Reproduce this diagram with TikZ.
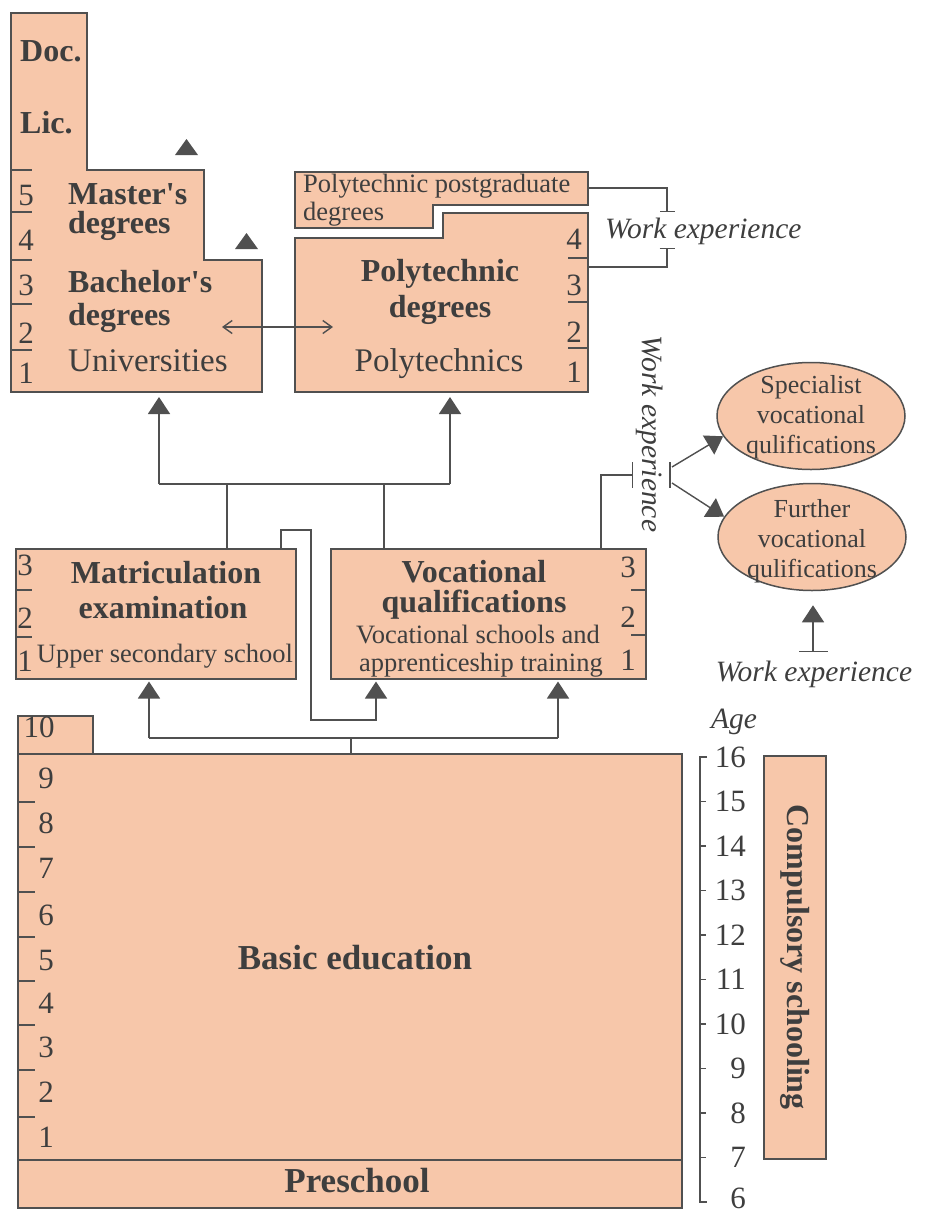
\documentclass[tikz,border=0pt]{standalone}
\usepackage{fontspec}
\setmainfont{Liberation Serif}
\usetikzlibrary{arrows.meta,shapes.geometric}
\definecolor{peach}{RGB}{247,199,170}
\definecolor{ln}{RGB}{80,80,80}
\definecolor{tx}{RGB}{62,62,62}
\begin{document}
\begin{tikzpicture}[x=1pt,y=-1pt,
  shp/.style={draw=ln,line width=1.5pt,fill=peach},
  lnk/.style={draw=ln,line width=1.4pt},
  arr/.style={lnk,-{Triangle[width=22pt,length=17pt]}},
  txt/.style={text=tx,inner sep=0pt},
  fb/.style={txt,font=\bfseries\fontsize{32}{36}\selectfont},
  fr/.style={txt,font=\fontsize{33}{36}\selectfont},
  fn/.style={txt,font=\fontsize{31}{36}\selectfont},
  fs/.style={txt,font=\fontsize{26.5}{30}\selectfont},
  fe/.style={txt,font=\fontsize{26}{30}\selectfont,align=center},
  fi/.style={txt,font=\itshape\fontsize{29.5}{34}\selectfont},
  fbig/.style={txt,font=\bfseries\fontsize{35}{40}\selectfont},
  rbox/.style={shp,inner sep=0pt,anchor=north west},
]
\useasboundingbox (0,0) rectangle (926,1216);

% ---------- Universities ----------
\draw[shp] (11,13) -- (87,13) -- (87,170) -- (204,170) -- (204,260) -- (262,260) -- (262,392) -- (11,392) -- cycle;
\foreach \y in {170,212,260,304,350} \draw[lnk] (11,\y) -- (32,\y);
\node[fn,anchor=base] (u5) at (26,205) {5};
\node[fn,anchor=base] (u4) at (26,250) {4};
\node[fn,anchor=base] (u3) at (26,295) {3};
\node[fn,anchor=base] (u2) at (26,343) {2};
\node[fn,anchor=base] (u1) at (26,383) {1};
\node[fb,anchor=base west] (doc) at (20,61) {Doc.};
\node[fb,anchor=base west] (lic) at (20,133) {Lic.};
\node[fb,anchor=base west] (mas) at (68,204) {Master\textquotesingle s};
\node[fb,anchor=base west] (masd) at (68,233) {degrees};
\node[fb,anchor=base west] (bac) at (68,292) {Bachelor\textquotesingle s};
\node[fb,anchor=base west] (bacd) at (68,325) {degrees};
\node[fr,anchor=base west] (univ) at (68,371) {Universities};
\fill[ln] (175,155) -- (198,155) -- (186.5,139) -- cycle;
\fill[ln] (235,249) -- (258,249) -- (246.5,233) -- cycle;

% ---------- Polytechnics ----------
\draw[shp] (295,172) -- (588,172) -- (588,205) -- (433,205) -- (433,228) -- (295,228) -- cycle;
\node[fs,anchor=base west] (pg1) at (303,192) {Polytechnic postgraduate};
\node[fs,anchor=base west] (pg2) at (303,220) {degrees};
\draw[shp] (295,238) -- (443,238) -- (443,213) -- (588,213) -- (588,392) -- (295,392) -- cycle;
\foreach \y in {258,302,348} \draw[lnk] (568,\y) -- (588,\y);
\node[fn,anchor=base] (p4) at (574,249) {4};
\node[fn,anchor=base] (p3) at (574,295) {3};
\node[fn,anchor=base] (p2) at (574,342) {2};
\node[fn,anchor=base] (p1) at (574,382) {1};
\node[fb,anchor=base] (pd1) at (440,281) {Polytechnic};
\node[fb,anchor=base] (pd2) at (440,317) {degrees};
\node[fr,anchor=base] (poly) at (439,371) {Polytechnics};

\coordinate (dA) at (222,327);
\coordinate (dB) at (333,327);
\draw[lnk,{Straight Barb[length=9pt,width=13pt]}-{Straight Barb[length=9pt,width=13pt]}] (dA) -- (dB);

% work experience (top right)
\coordinate (pgR) at (588,188);
\coordinate (pR) at (588,267);
\coordinate (we1) at (667,212);
\coordinate (we2) at (667,248);
\draw[lnk,-{Bar[width=15pt]}] (pgR) -| (we1);
\draw[lnk,-{Bar[width=15pt]}] (pR) -| (we2);
\node[fi,anchor=base west] (wetop) at (605,238) {Work experience};

% ---------- Upper secondary ----------
\node[rbox,minimum width=280pt,minimum height=130pt] (matric) at (15,548) {};
\foreach \y in {590,637} \draw[lnk] (15,\y) -- (32,\y);
\node[fn,anchor=base] (m3) at (25,575) {3};
\node[fn,anchor=base] (m2) at (25,628) {2};
\node[fn,anchor=base] (m1) at (25,671) {1};
\node[fb,anchor=base] (mt1) at (166,583) {Matriculation};
\node[fb,anchor=base] (mt2) at (163,618) {examination};
\node[fs,anchor=base] (mt3) at (165,662) {Upper secondary school};

\node[rbox,minimum width=315pt,minimum height=130pt] (voc) at (330,548) {};
\foreach \y in {590,635} \draw[lnk] (631,\y) -- (645,\y);
\node[fn,anchor=base] (v3) at (628,577) {3};
\node[fn,anchor=base] (v2) at (628,627) {2};
\node[fn,anchor=base] (v1) at (628,670) {1};
\node[fb,anchor=base] (vt1) at (474,582) {Vocational};
\node[fb,anchor=base] (vt2) at (474,612) {qualifications};
\node[fs,anchor=base] (vt3) at (478,643) {Vocational schools and};
\node[fs,anchor=base] (vt4) at (481,671) {apprenticeship training};

% connectors to higher education
\coordinate (ju) at (159,484);
\coordinate (jm) at (227,484);
\coordinate (jv) at (384,484);
\coordinate (jp) at (450,484);
\coordinate (uniB) at (159,392);
\coordinate (polyB) at (450,392);
\draw[lnk] (jm |- matric.north) -- (jm);
\draw[lnk] (jv |- voc.north) -- (jv);
\draw[lnk] (ju) -- (jp);
\draw[arr,shorten >=5pt] (ju) -- (uniB);
\draw[arr,shorten >=5pt] (jp) -- (polyB);

% loop from matriculation to vocational
\coordinate (l1) at (281,530);
\coordinate (l2) at (311,720);
\coordinate (l3) at (376,720);
\draw[arr,shorten >=2pt] (l1 |- matric.north) -- (l1) -| (l2) -- (l3) -- (l3 |- voc.south);

% work experience from vocational
\coordinate (vw0) at (601,475);
\coordinate (vw1) at (633,475);
\coordinate (wb) at (670,475);
\coordinate (wa1) at (672,467);
\coordinate (wa2) at (672,483);
\draw[lnk,-{Bar[width=26pt]}] (vw0 |- voc.north) -- (vw0) -- (vw1);
\draw[lnk] ([yshift=13pt]wb) -- ([yshift=-13pt]wb);
\node[fi,rotate=-90] (wemid) at (650,434) {Work experience};

% ellipses
\node[shp,ellipse,minimum width=188pt,minimum height=107pt,inner sep=0pt] (spec) at (811,416) {};
\node[fe] (spect) at (811,417) {Specialist\\vocational\\qulifications};
\node[shp,ellipse,minimum width=188pt,minimum height=107pt,inner sep=0pt] (furt) at (812,537) {};
\node[fe] (furtt) at (812,541) {Further\\vocational\\qulifications};
\draw[arr] (wa1) -- (spec.193);
\draw[arr] (wa2) -- (furt.167);

\coordinate (wb2) at (813,652);
\draw[lnk,{Bar[width=29pt]}-{Triangle[width=22pt,length=17pt]},shorten >=14pt] (wb2) -- (wb2 |- furt.south);
\node[fi,anchor=base] (webot) at (814,681) {Work experience};

% ---------- Basic education ----------
\node[rbox,minimum width=75pt,minimum height=38pt] (ten) at (17,715) {};
\node[fn,anchor=base] (tent) at (39,737) {10};
\node[rbox,minimum width=664pt,minimum height=454pt] (basic) at (17,753) {};
\coordinate (ps) at (0,1160);
\draw[lnk] (basic.west |- ps) -- (basic.east |- ps);
\foreach \y in {802,847,892,937,981,1025,1070,1117} \draw[lnk] (17,\y) -- (35,\y);
\foreach \n/\y in {9/788,8/833,7/878,6/925,5/970,4/1013,3/1057,2/1102,1/1147}
  \node[fn,anchor=base] (b\n) at (46,\y) {\n};
\node[fbig,anchor=base] (basict) at (355,969) {Basic education};
\node[fbig,anchor=base] (pre) at (357,1192) {Preschool};

% connectors from basic education
\coordinate (bh) at (351,738);
\coordinate (bl) at (149,738);
\coordinate (br) at (558,738);
\draw[lnk] (bh |- basic.north) -- (bh);
\draw[lnk] (bl) -- (br);
\draw[arr,shorten >=2pt] (bl) -- (bl |- matric.south);
\draw[arr,shorten >=2pt] (br) -- (br |- voc.south);

% ---------- Age axis ----------
\node[fi,anchor=base] (age) at (734,728) {Age};
\draw[lnk] (707,757) -- (700,757) -- (700,1202) -- (707,1202);
\foreach \a in {7,...,15} {
  \pgfmathsetmacro{\yy}{757+(16-\a)*44.5}
  \draw[lnk] (700,\yy) -- (706,\yy);
}
\foreach \a in {7,...,16} {
  \pgfmathsetmacro{\yy}{757+(16-\a)*44.5}
  \node[fn,anchor=east] (age\a) at (746,\yy) {\a};
}
\node[fn,anchor=east] (age6) at (746,1198) {6};
\node[rbox,minimum width=62pt,minimum height=403pt] (comp) at (763,755) {};
\node[fb,rotate=-90] (compt) at (comp.center) {Compulsory schooling};
\end{tikzpicture}
\end{document}
